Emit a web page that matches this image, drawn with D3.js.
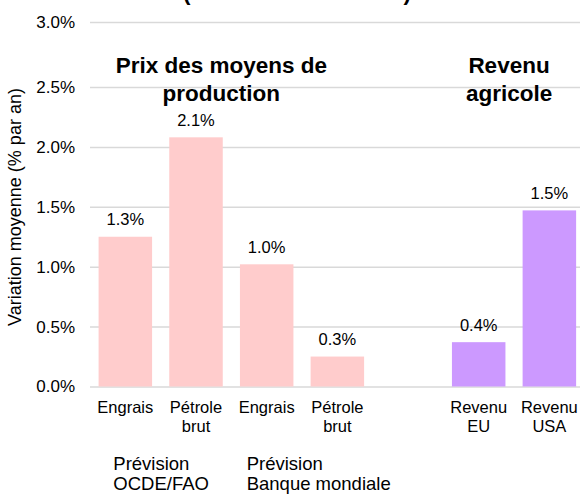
<!DOCTYPE html>
<html>
<head>
<meta charset="utf-8">
<script src="https://cdn.jsdelivr.net/npm/d3@7"></script>
<style>
  body { margin: 0; background: #fff; }
  text { font-family: "Liberation Sans", Arial, sans-serif; fill: #000; }
</style>
</head>
<body>
<div id="chart"></div>
<script>
"use strict";

//Chart data
var categories = [["Engrais"], ["Pétrole", "brut"], ["Engrais"], ["Pétrole", "brut"], [], ["Revenu", "EU"], ["Revenu", "USA"]];
var values = [1.25, 2.08, 1.02, 0.25, null, 0.37, 1.47];
var groups = ["prix", "prix", "prix", "prix", "", "revenu", "revenu"];
var yTicks = [0, 0.5, 1.0, 1.5, 2.0, 2.5, 3.0];
var groupTitles = [["Prix des moyens de", "production"], ["Revenu", "agricole"]];
var sourceNotes = [["Prévision", "OCDE/FAO"], ["Prévision", "Banque mondiale"]];
var yTitle = "Variation moyenne (% par an)";
var topTitle = "(2019-21 à 2031)";

//Visualization parameters
var svgWidth = 580;
var svgHeight = 494;
var colors = {prix: "#ffcccc", revenu: "#cc99ff"};
var gridColor = "#d9d9d9";

var svg = d3.select("#chart")
            .append("svg")
            .attr("width", svgWidth)
            .attr("height", svgHeight);

var x = d3.scaleBand()
          .domain(d3.range(categories.length))
          .range([90, 584.7])
          .paddingInner(0.243)
          .paddingOuter(0.1215);

//top gridline sits a bit higher than the rest in the picture
var y = d3.scaleLinear()
          .domain([0, 2.5, 3.0])
          .range([386.5, 87, 22]);

//Gridlines and tick labels
var yAxis = d3.axisLeft(y)
              .tickValues(yTicks)
              .tickFormat(function(d){ return d.toFixed(1) + "%"; })
              .tickSize(-(584.7 - 90))
              .tickPadding(15);

var gAxis = svg.append("g")
               .attr("transform", "translate(90,0)")
               .call(yAxis);
gAxis.select(".domain").remove();
gAxis.selectAll(".tick line")
     .attr("stroke", gridColor)
     .attr("stroke-width", 1.5);
gAxis.selectAll(".tick text")
     .attr("font-size", 17)
     .attr("font-family", "Liberation Sans, Arial, sans-serif")
     .attr("fill", "#000");

//Bars
var data = d3.range(categories.length).filter(function(i){ return values[i] !== null; });

svg.selectAll("rect.bar")
   .data(data)
   .enter()
   .append("rect")
   .attr("class", "bar")
   .attr("x", function(i){ return x(i); })
   .attr("y", function(i){ return y(values[i]); })
   .attr("width", x.bandwidth())
   .attr("height", function(i){ return y(0) - y(values[i]); })
   .attr("fill", function(i){ return colors[groups[i]]; });

//Value labels
svg.selectAll("text.value")
   .data(data)
   .enter()
   .append("text")
   .attr("class", "value")
   .attr("x", function(i){ return x(i) + x.bandwidth()/2; })
   .attr("y", function(i){ return y(values[i]) - 11.5; })
   .attr("text-anchor", "middle")
   .attr("font-size", 16.5)
   .text(function(i){ return values[i].toFixed(1) + "%"; });

//Category labels
var catLabels = svg.selectAll("text.cat")
   .data(d3.range(categories.length))
   .enter()
   .append("text")
   .attr("class", "cat")
   .attr("text-anchor", "middle")
   .attr("font-size", 16.5);

catLabels.selectAll("tspan")
   .data(function(i){ return categories[i].map(function(s){ return {i: i, s: s}; }); })
   .enter()
   .append("tspan")
   .attr("x", function(d){ return x(d.i) + x.bandwidth()/2; })
   .attr("y", function(d, k){ return 413.3 + k*18.4; })
   .text(function(d){ return d.s; });

//Group titles: the first one sits left of its bars' centre
var titleX = [(x(0) + x(3) + x.bandwidth())/2 - 10, (x(5) + x(6) + x.bandwidth())/2 - 5];
groupTitles.forEach(function(lines, g){
    var t = svg.append("text")
               .attr("text-anchor", "middle")
               .attr("font-size", 22.5)
               .attr("font-weight", "bold");
    lines.forEach(function(s, k){
        t.append("tspan")
         .attr("x", titleX[g])
         .attr("y", 72.5 + k*28)
         .text(s);
    });
});

//Source notes under the first two pairs
var noteX = [113.3, 246.7];
sourceNotes.forEach(function(lines, g){
    var t = svg.append("text")
               .attr("font-size", 18.5);
    lines.forEach(function(s, k){
        t.append("tspan")
         .attr("x", noteX[g])
         .attr("y", 469.5 + k*20.5)
         .text(s);
    });
});

//Y axis title
svg.append("text")
   .attr("transform", "translate(21,207) rotate(-90)")
   .attr("text-anchor", "middle")
   .attr("font-size", 18)
   .text(yTitle);

//Chart title, cut off at the top of the picture
svg.append("text")
   .attr("x", 183)
   .attr("y", 0)
   .attr("font-size", 22.5)
   .attr("font-weight", "bold")
   .attr("textLength", 228)
   .attr("lengthAdjust", "spacing")
   .text(topTitle);
</script>
</body>
</html>
